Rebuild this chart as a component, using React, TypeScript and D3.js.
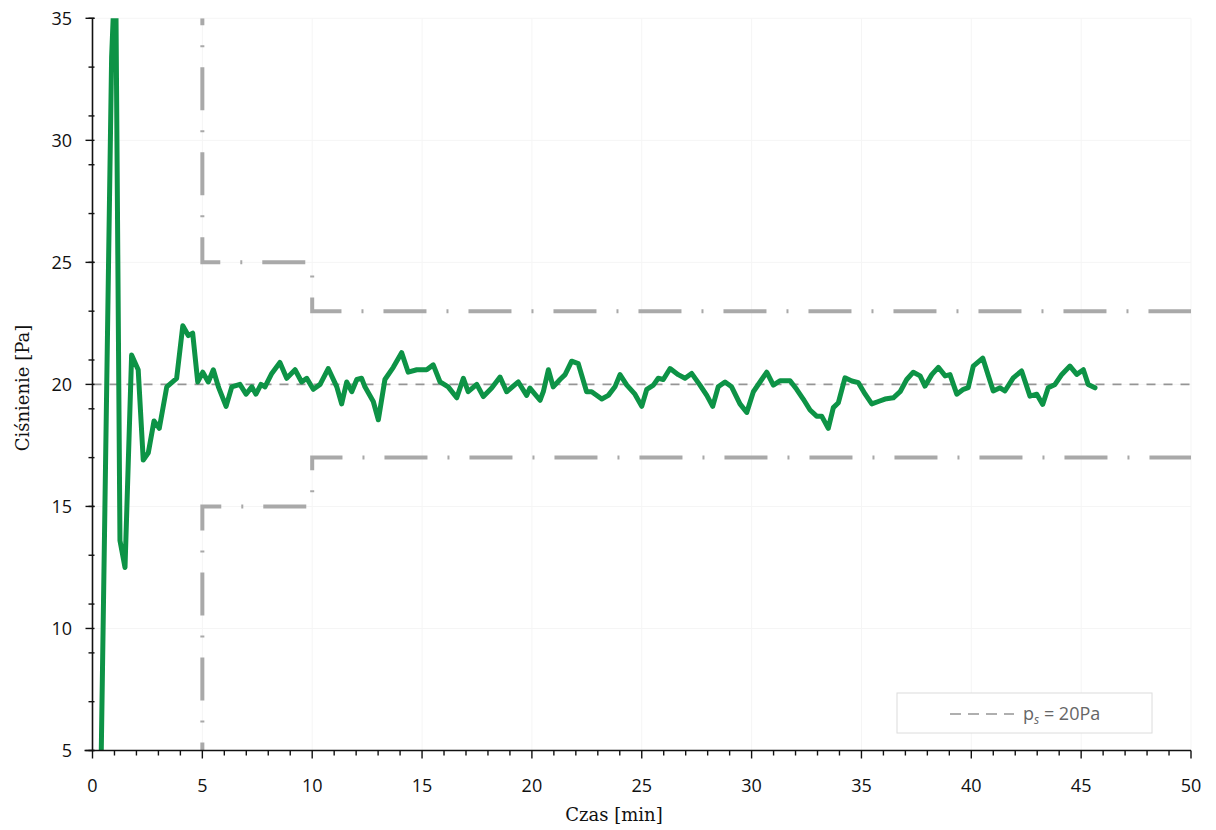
import React from "react";
import * as d3 from "d3";

const times: number[] = [
  0.4, 0.87, 1.05, 1.25, 1.48, 1.78, 2.08, 2.31, 2.54, 2.8, 3.04, 3.38, 3.83, 4.11, 4.36, 4.56, 4.79,
  5.02, 5.27, 5.5, 5.73, 6.08, 6.34, 6.71, 6.99, 7.25, 7.44, 7.67, 7.85, 8.16, 8.53, 8.84, 9.22, 9.52,
  9.75, 10.05, 10.36, 10.73, 11.12, 11.34, 11.57, 11.8, 12.03, 12.25, 12.4, 12.78, 13.01, 13.31, 13.69,
  14.07, 14.37, 14.76, 15.21, 15.51, 15.82, 16.19, 16.58, 16.88, 17.1, 17.49, 17.79, 18.17, 18.55,
  18.85, 19.38, 19.76, 19.91, 20.37, 20.52, 20.75, 20.97, 21.28, 21.51, 21.81, 22.11, 22.49, 22.72,
  23.18, 23.48, 23.78, 24.01, 24.32, 24.69, 25.0, 25.23, 25.53, 25.75, 25.98, 26.29, 26.66, 26.97,
  27.27, 27.65, 27.96, 28.23, 28.48, 28.79, 29.09, 29.47, 29.78, 30.08, 30.46, 30.69, 30.99, 31.29,
  31.75, 32.05, 32.35, 32.66, 32.96, 33.19, 33.49, 33.72, 33.95, 34.25, 34.56, 34.86, 35.17, 35.47,
  35.77, 36.07, 36.45, 36.76, 37.06, 37.36, 37.67, 37.89, 38.2, 38.5, 38.81, 39.03, 39.34, 39.64,
  39.86, 40.09, 40.52, 40.78, 41.0, 41.31, 41.53, 41.91, 42.29, 42.67, 42.98, 43.25, 43.5, 43.81,
  44.12, 44.49, 44.8, 45.1, 45.32, 45.63,
];

const pressures: number[] = [
  5, 33.4, 37.5, 13.6, 12.5, 21.2, 20.6, 16.9, 17.2, 18.5, 18.2, 19.9, 20.25, 22.4, 22.0, 22.1, 20.1,
  20.5, 20.1, 20.6, 19.9, 19.1, 19.9, 20.0, 19.6, 19.9, 19.6, 20.0, 19.9, 20.45, 20.9, 20.25, 20.6, 20.1,
  20.25, 19.8, 20.0, 20.65, 19.9, 19.2, 20.1, 19.7, 20.2, 20.25, 19.9, 19.3, 18.55, 20.2, 20.7,
  21.3, 20.5, 20.6, 20.6, 20.8, 20.1, 19.9, 19.45, 20.25, 19.7, 20.0, 19.5, 19.85, 20.3,
  19.7, 20.1, 19.55, 19.85, 19.35, 19.7, 20.6, 19.9, 20.2, 20.4, 20.95, 20.85, 19.7, 19.7,
  19.4, 19.55, 19.9, 20.4, 19.97, 19.6, 19.1, 19.8, 19.97, 20.25, 20.2, 20.65, 20.4, 20.25,
  20.45, 19.97, 19.55, 19.1, 19.9, 20.1, 19.9, 19.2, 18.85, 19.7, 20.2, 20.5, 19.97, 20.15,
  20.15, 19.8, 19.4, 18.95, 18.7, 18.7, 18.2, 19.05, 19.25, 20.27, 20.14, 20.07, 19.6, 19.2,
  19.3, 19.4, 19.45, 19.7, 20.2, 20.5, 20.35, 19.93, 20.4, 20.7, 20.35, 20.4, 19.6, 19.8,
  19.87, 20.75, 21.08, 20.34, 19.73, 19.86, 19.73, 20.27, 20.55, 19.52, 19.6, 19.18, 19.86, 20.0,
  20.41, 20.75, 20.41, 20.6, 20.0, 19.86,
];

// tolerance band step lines (time, pressure)
const upperBandT: number[] = [5, 5, 10, 10, 50];
const upperBandP: number[] = [35, 25, 25, 23, 23];
const lowerBandT: number[] = [5, 5, 10, 10, 50];
const lowerBandP: number[] = [5, 15, 15, 17, 17];

const setpoint = 20;
const xTicks: number[] = [0, 5, 10, 15, 20, 25, 30, 35, 40, 45, 50];
const yTicks: number[] = [5, 10, 15, 20, 25, 30, 35];
const xMinor: number[] = d3.range(0, 51, 1);
const yMinor: number[] = d3.range(5, 36, 2);

const xTitle = "Czas [min]";
const yTitle = "Ciśnienie [Pa]";

export default function App() {
  const W = 1216;
  const H = 830;
  const x = d3.scaleLinear().domain([0, 50]).range([92.5, 1191]);
  const y = d3.scaleLinear().domain([5, 35]).range([750.5, 18.3]);

  const line = d3
    .line<[number, number]>()
    .x((d) => x(d[0]))
    .y((d) => y(d[1]));

  const data: [number, number][] = times.map((t, i) => [t, pressures[i]]);
  const upper: [number, number][] = upperBandT.map((t, i) => [t, upperBandP[i]]);
  const lower: [number, number][] = lowerBandT.map((t, i) => [t, lowerBandP[i]]);

  const tickFont = "'Open Sans', sans-serif";
  const titleFont = "'DejaVu Serif', serif";

  return (
    <svg
      width={W}
      height={H}
      style={{ position: "absolute", left: 0, top: 0, background: "#fff" }}
    >
      <defs>
        <clipPath id="plot">
          <rect x={x(0)} y={y(35)} width={x(50) - x(0)} height={y(5) - y(35)} />
        </clipPath>
      </defs>
      <rect x={0} y={0} width={W} height={H} fill="#fff" />

      {/* faint gridlines */}
      {xTicks.slice(1).map((t) => (
        <line key={"gx" + t} x1={x(t)} x2={x(t)} y1={y(35)} y2={y(5)} stroke="#f5f5f5" strokeWidth={1} />
      ))}
      {yTicks.slice(1).map((v) => (
        <line key={"gy" + v} x1={x(0)} x2={x(50)} y1={y(v)} y2={y(v)} stroke="#f5f5f5" strokeWidth={1} />
      ))}

      {/* tolerance bands */}
      <g clipPath="url(#plot)">
        <path
          d={line(upper) || ""}
          fill="none"
          stroke="#a9a9a9"
          strokeWidth={4}
          strokeDasharray="43,20,2,20"
          strokeDashoffset={36}
        />
        <path
          d={line(lower) || ""}
          fill="none"
          stroke="#a9a9a9"
          strokeWidth={4}
          strokeDasharray="43,20,2,20"
          strokeDashoffset={35}
        />
      </g>

      {/* setpoint line */}
      <line
        x1={x(0)}
        x2={x(50)}
        y1={y(setpoint)}
        y2={y(setpoint)}
        stroke="#959595"
        strokeWidth={1.6}
        strokeDasharray="9,8"
      />

      {/* data */}
      <g clipPath="url(#plot)">
        <path
          d={line(data) || ""}
          fill="none"
          stroke="#0d9346"
          strokeWidth={5}
          strokeLinejoin="round"
          strokeLinecap="round"
        />
      </g>

      {/* axes */}
      <line x1={x(0)} x2={x(0)} y1={y(35)} y2={y(5)} stroke="#111" strokeWidth={1.6} />
      <line x1={x(0) - 8} x2={x(50)} y1={y(5)} y2={y(5)} stroke="#111" strokeWidth={1.6} />
      {xMinor.map((t) => (
        <line key={"xm" + t} x1={x(t)} x2={x(t)} y1={y(5)} y2={y(5) + (t % 5 === 0 ? 8 : 5)} stroke="#111" strokeWidth={1.4} />
      ))}
      {yMinor.map((v) => (
        <line key={"ym" + v} x1={x(0) + 2} x2={x(0) - 4} y1={y(v)} y2={y(v)} stroke="#111" strokeWidth={1.4} />
      ))}
      {yTicks.map((v) => (
        <line key={"yt" + v} x1={x(0) + 2} x2={x(0) - 7} y1={y(v)} y2={y(v)} stroke="#111" strokeWidth={1.4} />
      ))}
      {xTicks.map((t) => (
        <text
          key={"xl" + t}
          x={x(t)}
          y={792}
          textAnchor="middle"
          fontFamily={tickFont}
          fontSize={18}
          fill="#111"
        >
          {t}
        </text>
      ))}
      {yTicks.map((v) => (
        <text
          key={"yl" + v}
          x={72}
          y={y(v) + 6.5}
          textAnchor="end"
          fontFamily={tickFont}
          fontSize={18}
          fill="#111"
        >
          {v}
        </text>
      ))}

      <text x={614} y={821} textAnchor="middle" fontFamily={titleFont} fontSize={18} fill="#111">
        {xTitle}
      </text>
      <text
        transform={`translate(29, ${388}) rotate(-90)`}
        textAnchor="middle"
        fontFamily={titleFont}
        fontSize={18}
        fill="#111"
      >
        {yTitle}
      </text>

      {/* legend */}
      <rect x={897} y={693} width={255} height={40} fill="#fff" stroke="#dcdcdc" strokeWidth={1} />
      <line x1={950} x2={1014} y1={714} y2={714} stroke="#959595" strokeWidth={1.6} strokeDasharray="11,7" />
      <text x={1023} y={720} fontFamily={tickFont} fontSize={18} fill="#666">
        p
        <tspan fontSize={12} dy={4} fontStyle="italic">s</tspan>
        <tspan dy={-4}> = 20Pa</tspan>
      </text>
    </svg>
  );
}
